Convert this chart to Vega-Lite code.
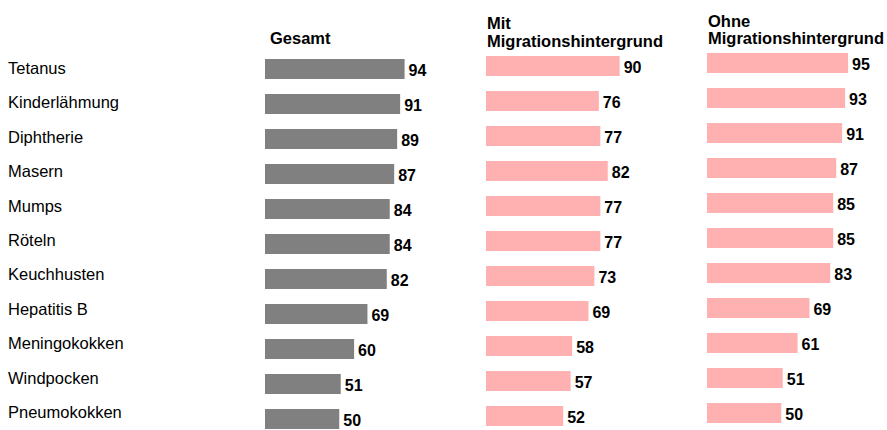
{
  "$schema": "https://vega.github.io/schema/vega-lite/v6.json",
  "padding": {"left": 8, "top": 14, "right": 0, "bottom": 0},
  "bounds": "flush",
  "spacing": 72,
  "background": "white",
  "config": {"view": {"stroke": null}, "font": "Liberation Sans"},
  "datasets": {
    "rows": [
      {"cat": "Tetanus", "group": "Gesamt", "value": 94},
      {"cat": "Kinderlähmung", "group": "Gesamt", "value": 91},
      {"cat": "Diphtherie", "group": "Gesamt", "value": 89},
      {"cat": "Masern", "group": "Gesamt", "value": 87},
      {"cat": "Mumps", "group": "Gesamt", "value": 84},
      {"cat": "Röteln", "group": "Gesamt", "value": 84},
      {"cat": "Keuchhusten", "group": "Gesamt", "value": 82},
      {"cat": "Hepatitis B", "group": "Gesamt", "value": 69},
      {"cat": "Meningokokken", "group": "Gesamt", "value": 60},
      {"cat": "Windpocken", "group": "Gesamt", "value": 51},
      {"cat": "Pneumokokken", "group": "Gesamt", "value": 50},
      {"cat": "Tetanus", "group": "Mit", "value": 90},
      {"cat": "Kinderlähmung", "group": "Mit", "value": 76},
      {"cat": "Diphtherie", "group": "Mit", "value": 77},
      {"cat": "Masern", "group": "Mit", "value": 82},
      {"cat": "Mumps", "group": "Mit", "value": 77},
      {"cat": "Röteln", "group": "Mit", "value": 77},
      {"cat": "Keuchhusten", "group": "Mit", "value": 73},
      {"cat": "Hepatitis B", "group": "Mit", "value": 69},
      {"cat": "Meningokokken", "group": "Mit", "value": 58},
      {"cat": "Windpocken", "group": "Mit", "value": 57},
      {"cat": "Pneumokokken", "group": "Mit", "value": 52},
      {"cat": "Tetanus", "group": "Ohne", "value": 95},
      {"cat": "Kinderlähmung", "group": "Ohne", "value": 93},
      {"cat": "Diphtherie", "group": "Ohne", "value": 91},
      {"cat": "Masern", "group": "Ohne", "value": 87},
      {"cat": "Mumps", "group": "Ohne", "value": 85},
      {"cat": "Röteln", "group": "Ohne", "value": 85},
      {"cat": "Keuchhusten", "group": "Ohne", "value": 83},
      {"cat": "Hepatitis B", "group": "Ohne", "value": 69},
      {"cat": "Meningokokken", "group": "Ohne", "value": 61},
      {"cat": "Windpocken", "group": "Ohne", "value": 51},
      {"cat": "Pneumokokken", "group": "Ohne", "value": 50}
    ]
  },
  "data": {"name": "rows"},
  "hconcat": [
    {
      "width": 185,
      "height": {"step": 34.4},
      "transform": [{"filter": "datum.group === 'Gesamt'"}],
      "mark": {"type": "text", "align": "left", "baseline": "middle", "fontSize": 16.5, "color": "black"},
      "encoding": {
        "y": {"field": "cat", "type": "nominal", "sort": ["Tetanus","Kinderlähmung","Diphtherie","Masern","Mumps","Röteln","Keuchhusten","Hepatitis B","Meningokokken","Windpocken","Pneumokokken"], "scale": {"type": "point", "padding": 0.4651}, "axis": null},
        "x": {"datum": 0, "type": "quantitative", "scale": {"domain": [0, 1]}, "axis": null},
        "text": {"field": "cat"}
      }
    },
    {
      "width": 148.5,
      "height": {"step": 35},
      "title": {"text": "Gesamt", "anchor": "start", "dx": 5, "offset": -10.5, "baseline": "bottom", "fontSize": 16.5, "fontWeight": "bold", "color": "black", "lineHeight": 18},
      "transform": [{"filter": "datum.group === 'Gesamt'"}],
      "encoding": {
        "y": {"field": "cat", "type": "nominal", "sort": ["Tetanus","Kinderlähmung","Diphtherie","Masern","Mumps","Röteln","Keuchhusten","Hepatitis B","Meningokokken","Windpocken","Pneumokokken"], "scale": {"paddingInner": 0.428571, "paddingOuter": 0.085714, "align": 1}, "axis": null},
        "x": {"field": "value", "type": "quantitative", "scale": {"domain": [0, 100]}, "axis": null}
      },
      "layer": [
        {"mark": {"type": "bar", "color": "#808080"}},
        {"mark": {"type": "text", "align": "left", "baseline": "middle", "dx": 4, "dy": 2, "fontSize": 16, "fontWeight": "bold", "color": "black"}, "encoding": {"text": {"field": "value"}}}
      ]
    },
    {
      "width": 148.5,
      "height": {"step": 35},
      "title": {"text": ["Mit", "Migrationshintergrund"], "anchor": "start", "dx": 1, "offset": -13.5, "baseline": "bottom", "fontSize": 16.5, "fontWeight": "bold", "color": "black", "lineHeight": 18},
      "transform": [{"filter": "datum.group === 'Mit'"}],
      "encoding": {
        "y": {"field": "cat", "type": "nominal", "sort": ["Tetanus","Kinderlähmung","Diphtherie","Masern","Mumps","Röteln","Keuchhusten","Hepatitis B","Meningokokken","Windpocken","Pneumokokken"], "scale": {"paddingInner": 0.428571, "paddingOuter": 0.042857, "align": 1}, "axis": null},
        "x": {"field": "value", "type": "quantitative", "scale": {"domain": [0, 100]}, "axis": null}
      },
      "layer": [
        {"mark": {"type": "bar", "color": "#FFB1B1"}},
        {"mark": {"type": "text", "align": "left", "baseline": "middle", "dx": 4, "dy": 2, "fontSize": 16, "fontWeight": "bold", "color": "black"}, "encoding": {"text": {"field": "value"}}}
      ]
    },
    {
      "width": 148.5,
      "height": {"step": 35},
      "title": {"text": ["Ohne", "Migrationshintergrund"], "anchor": "start", "dx": 1, "offset": -10.5, "baseline": "bottom", "fontSize": 16.5, "fontWeight": "bold", "color": "black", "lineHeight": 17},
      "transform": [{"filter": "datum.group === 'Ohne'"}],
      "encoding": {
        "y": {"field": "cat", "type": "nominal", "sort": ["Tetanus","Kinderlähmung","Diphtherie","Masern","Mumps","Röteln","Keuchhusten","Hepatitis B","Meningokokken","Windpocken","Pneumokokken"], "scale": {"paddingInner": 0.428571, "paddingOuter": 0, "align": 1}, "axis": null},
        "x": {"field": "value", "type": "quantitative", "scale": {"domain": [0, 100]}, "axis": null}
      },
      "layer": [
        {"mark": {"type": "bar", "color": "#FFB1B1"}},
        {"mark": {"type": "text", "align": "left", "baseline": "middle", "dx": 4, "dy": 2, "fontSize": 16, "fontWeight": "bold", "color": "black"}, "encoding": {"text": {"field": "value"}}}
      ]
    }
  ]
}
